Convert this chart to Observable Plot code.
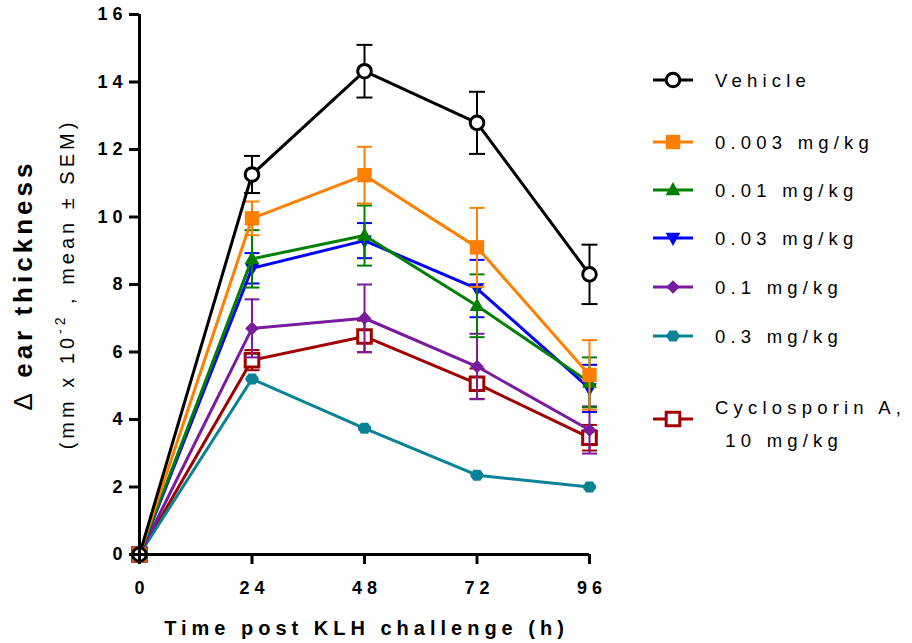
<!DOCTYPE html>
<html>
<head>
<meta charset="utf-8">
<script src="https://cdn.jsdelivr.net/npm/d3@7"></script>
<script src="https://cdn.jsdelivr.net/npm/@observablehq/plot@0.6"></script>
<style>
  body { margin: 0; background: #fff; }
  #chart { position: relative; width: 912px; height: 643px; }
</style>
</head>
<body>
<div id="chart"></div>
<script>
// ---------- data ----------
const hours = [0, 24, 48, 72, 96];
const seriesNames = ["Vehicle", "0.003 mg/kg", "0.01 mg/kg", "0.03 mg/kg", "0.1 mg/kg", "0.3 mg/kg", "Cyclosporin A, 10 mg/kg"];
const legendLines = [["Vehicle"], ["0.003 mg/kg"], ["0.01 mg/kg"], ["0.03 mg/kg"], ["0.1 mg/kg"], ["0.3 mg/kg"], ["Cyclosporin A,", " 10 mg/kg"]];

const vehicleMean = [0, 11.26, 14.32, 12.79, 8.30];
const vehicleSem  = [0, 0.55, 0.78, 0.92, 0.88];
const dose0003Mean = [0, 9.96, 11.24, 9.10, 5.32];
const dose0003Sem  = [0, 0.50, 0.84, 1.17, 1.03];
const dose001Mean = [0, 8.76, 9.45, 7.37, 5.10];
const dose001Sem  = [0, 0.85, 0.89, 0.93, 0.74];
const dose003Mean = [0, 8.48, 9.30, 7.88, 4.92];
const dose003Sem  = [0, 0.45, 0.52, 0.85, 0.70];
const dose01Mean = [0, 6.70, 7.00, 5.57, 3.69];
const dose01Sem  = [0, 0.86, 1.00, 0.97, 0.70];
const dose03Mean = [0, 5.20, 3.74, 2.35, 2.00];
const dose03Sem  = [0, 0.04, 0.04, 0.04, 0.04];
const csaMean = [0, 5.76, 6.46, 5.06, 3.46];
const csaSem  = [0, 0.30, 0.47, 0.45, 0.38];

const yTicks = [0, 2, 4, 6, 8, 10, 12, 14, 16];
const xTicks = [0, 24, 48, 72, 96];
const xTitle = "Time post KLH challenge (h)";
const yTitleDelta = "\u0394";
const yTitle = " ear thickness";
const ySubA = "(mm x 10";
const ySubSup = "-2";
const ySubB = " , mean \u00b1 SEM)";

const means = [vehicleMean, dose0003Mean, dose001Mean, dose003Mean, dose01Mean, dose03Mean, csaMean];
const sems  = [vehicleSem, dose0003Sem, dose001Sem, dose003Sem, dose01Sem, dose03Sem, csaSem];

// ---------- styles ----------
const colors = ["#000000", "#FF8000", "#008000", "#0000FF", "#7A1A9E", "#0A8296", "#A00000"];
const sym = (fn) => ({ draw(c, size) { const r = Math.sqrt(size / Math.PI); fn(c, r); } });
const circleSym = sym((c, r) => { c.moveTo(r, 0); c.arc(0, 0, r, 0, 2 * Math.PI); c.closePath(); });
const squareSym = sym((c, r) => { c.rect(-r, -r, 2 * r, 2 * r); });
const triUpSym = sym((c, r) => { c.moveTo(0, -r * 1.15); c.lineTo(r * 1.05, r * 0.75); c.lineTo(-r * 1.05, r * 0.75); c.closePath(); });
const triDownSym = sym((c, r) => { c.moveTo(0, r * 1.15); c.lineTo(r * 1.05, -r * 0.75); c.lineTo(-r * 1.05, -r * 0.75); c.closePath(); });
const diamondSym = sym((c, r) => { c.moveTo(0, -r); c.lineTo(r, 0); c.lineTo(0, r); c.lineTo(-r, 0); c.closePath(); });
const hexSym = sym((c, r) => {
  for (let k = 0; k < 6; k++) {
    const a = k * Math.PI / 3;
    const px = r * Math.cos(a), py = r * 0.9 * Math.sin(a);
    if (k === 0) c.moveTo(px, py); else c.lineTo(px, py);
  }
  c.closePath();
});
const capSym = sym((c, r) => { c.moveTo(-r, 0); c.lineTo(r, 0); });

const symbols = [circleSym, squareSym, triUpSym, triDownSym, diamondSym, hexSym, squareSym];
const radii   = [6.8, 7.2, 7, 7, 6.8, 7, 6.8];
const capR    = [8, 7.5, 7.5, 7.5, 7.5, 6, 7.5];
const fills   = ["#ffffff", "#FF8000", "#008000", "#0000FF", "#7A1A9E", "#0A8296", "#ffffff"];
const strokeWs = [3, 0, 0, 0, 0, 0, 3];

// ---------- rows ----------
const rows = [];
seriesNames.forEach((name, i) => {
  hours.forEach((h, j) => rows.push({ series: name, idx: i, hour: h, mean: means[i][j], sem: sems[i][j] }));
});

// ---------- marks ----------
const marks = [];
for (let i = seriesNames.length - 1; i >= 0; i--) {
  const d = rows.filter(r => r.idx === i);
  const e = d.filter(r => r.sem > 0);
  const col = colors[i];
  marks.push(Plot.ruleX(e, { x: "hour", y1: r => r.mean - r.sem, y2: r => r.mean + r.sem, stroke: col, strokeWidth: 2 }));
  marks.push(Plot.dot(e, { x: "hour", y: r => r.mean + r.sem, symbol: capSym, r: capR[i], stroke: col, strokeWidth: 2, fill: "none" }));
  marks.push(Plot.dot(e, { x: "hour", y: r => r.mean - r.sem, symbol: capSym, r: capR[i], stroke: col, strokeWidth: 2, fill: "none" }));
  marks.push(Plot.line(d, { x: "hour", y: "mean", stroke: col, strokeWidth: 3 }));
  marks.push(Plot.dot(d, { x: "hour", y: "mean", symbol: symbols[i], r: radii[i], fill: fills[i], stroke: strokeWs[i] ? col : "none", strokeWidth: strokeWs[i] }));
}
marks.push(Plot.axisY(yTicks, { tickSize: 10, tickPadding: 2, fontSize: 18, fontWeight: "bold", strokeWidth: 3, label: null }));
marks.push(Plot.axisX(xTicks, { tickSize: 10, tickPadding: 17, fontSize: 18, fontWeight: "bold", strokeWidth: 3, label: null }));
marks.push(Plot.ruleX([0], { strokeWidth: 3 }));
marks.push(Plot.ruleY([0], { strokeWidth: 3 }));

const plot = Plot.plot({
  width: 912,
  height: 643,
  marginLeft: 139,
  marginRight: 323,
  marginTop: 14,
  marginBottom: 89,
  x: { domain: [0, 96] },
  y: { domain: [0, 16] },
  style: { fontFamily: "'Liberation Sans', Arial, sans-serif", background: "#fff", color: "#000" },
  marks
});
document.getElementById("chart").appendChild(plot);

// ---------- text styling ----------
const svg = d3.select(plot);
svg.selectAll('g[aria-label="y-axis tick label"] text').style("letter-spacing", "5px").attr("fill", "#000");
svg.selectAll('g[aria-label="x-axis tick label"] text').style("letter-spacing", "5px").attr("dx", 2.5).attr("fill", "#000");
svg.selectAll('g[aria-label="y-axis tick"], g[aria-label="x-axis tick"]').attr("stroke", "#000");

// axis titles
const t1 = svg.append("text")
  .attr("transform", "translate(32,287) rotate(-90)")
  .attr("text-anchor", "middle").attr("dx", 2)
  .style("font-size", "26px").style("font-weight", "bold").style("letter-spacing", "4px")
  .style("white-space", "pre")
  .attr("fill", "#000");
t1.append("tspan").style("font-weight", "normal").text(yTitleDelta);
t1.append("tspan").text(yTitle);
const sub = svg.append("text")
  .attr("transform", "translate(74,286) rotate(-90)")
  .attr("text-anchor", "middle").attr("dx", 2)
  .style("font-size", "20px").style("letter-spacing", "4px").attr("fill", "#000");
sub.append("tspan").text(ySubA);
sub.append("tspan").attr("dy", -9).style("font-size", "14px").text(ySubSup);
sub.append("tspan").attr("dy", 9).text(ySubB);

svg.append("text")
  .attr("x", 364).attr("y", 635).attr("dx", 2.5)
  .attr("text-anchor", "middle")
  .style("font-size", "20px").style("font-weight", "bold").style("letter-spacing", "5px")
  .attr("fill", "#000").text(xTitle);

// legend
const legendRowY = [80, 142, 190, 238, 287, 336, 419];
const lg = svg.append("g").attr("text-anchor", "start");
seriesNames.forEach((name, i) => {
  const g = lg.append("g").attr("transform", `translate(673,${legendRowY[i]})`);
  g.append("line").attr("x1", -20).attr("x2", 20).attr("stroke", colors[i]).attr("stroke-width", 3);
  g.append("path")
    .attr("d", d3.symbol().type(symbols[i]).size(radii[i] * radii[i] * Math.PI)())
    .attr("fill", fills[i]).attr("stroke", strokeWs[i] ? colors[i] : "none").attr("stroke-width", strokeWs[i]);
  const lines = legendLines[i];
  const t = g.append("text").attr("x", 42).attr("text-anchor", "start")
    .style("font-size", "18.5px").style("letter-spacing", "5.2px").attr("fill", "#000")
    .style("white-space", "pre");
  const off = lines.length === 1 ? 6.5 : -5.5;
  lines.forEach((ln, k) => {
    t.append("tspan").attr("x", 42).attr("y", off + k * 33).text(ln);
  });
});
</script>
</body>
</html>
